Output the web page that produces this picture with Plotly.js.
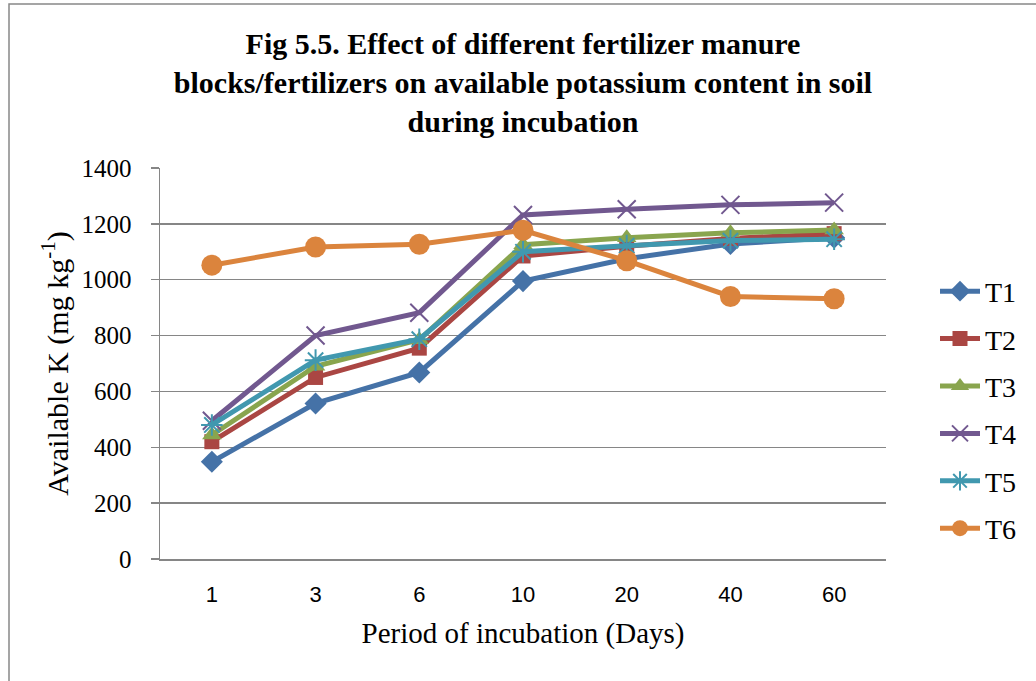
<!DOCTYPE html>
<html>
<head>
<meta charset="utf-8">
<script src="https://cdn.plot.ly/plotly-3.0.1.min.js"></script>
<style>html,body{margin:0;padding:0;background:#fff;}#chart{width:1036px;height:681px;}</style>
</head>
<body>
<div id="chart"></div>
<script>
const days = ['1', '3', '6', '10', '20', '40', '60'];
const seriesNames = ['T1', 'T2', 'T3', 'T4', 'T5', 'T6'];
const T1 = [348, 557, 668, 995, 1075, 1128, 1150];
const T2 = [420, 650, 755, 1085, 1120, 1148, 1165];
const T3 = [444, 690, 785, 1125, 1150, 1168, 1178];
const T4 = [495, 800, 882, 1232, 1252, 1268, 1276];
const T5 = [480, 712, 787, 1100, 1122, 1140, 1145];
const T6 = [1052, 1117, 1127, 1177, 1068, 940, 932];
const yTicks = [0, 200, 400, 600, 800, 1000, 1200, 1400];

const values = [T1, T2, T3, T4, T5, T6];
const colors = ['#4572A7', '#AA4643', '#89A54E', '#71588F', '#4198AF', '#DB843D'];
const markers = [
  {symbol: 'diamond', size: 17},
  {symbol: 'square', size: 15},
  {symbol: 'triangle-up', size: 17},
  {symbol: 'x-thin-open', size: 18, line: {width: 2}},
  {symbol: 'asterisk-open', size: 18, line: {width: 2}},
  {symbol: 'circle', size: 21}
];

const traces = values.map((v, i) => {
  const m = Object.assign({color: colors[i]}, markers[i]);
  if (m.line) m.line.color = colors[i];
  return {
    x: days, y: v, name: seriesNames[i], type: 'scatter', mode: 'lines+markers',
    line: {color: colors[i], width: 5},
    marker: m,
    legendgroup: 'g' + i
  };
});

const L = 160, R = 886, T = 168, B = 559, W = 1036, H = 681;
const pw = R - L, ph = B - T;
const px = v => (v - L) / pw;
const py = v => (B - v) / ph;

const layout = {
  width: W, height: H,
  margin: {l: L, r: W - R, t: T, b: H - B},
  paper_bgcolor: '#fff', plot_bgcolor: '#fff',
  showlegend: true,
  title: {
    text: '<b>Fig 5.5. Effect of different fertilizer manure<br>blocks/fertilizers on available potassium content in soil<br>during incubation</b>',
    font: {family: 'Liberation Serif', size: 30, color: '#000'},
    x: 0.5, xref: 'paper', xanchor: 'center',
    y: 1 - 54 / H, yref: 'container', yanchor: 'middle'
  },
  xaxis: {
    type: 'category', range: [-0.5, 6.5],
    showgrid: false, zeroline: false,
    showline: true, linecolor: '#868686', linewidth: 1.5,
    ticks: '', ticklabelstandoff: 15,
    tickfont: {family: 'Liberation Sans', size: 22, color: '#000'},
    title: {text: 'Period of incubation (Days)', font: {family: 'Liberation Serif', size: 29, color: '#000'}, standoff: 17}
  },
  yaxis: {
    range: [0, 1400], tickvals: yTicks, ticktext: yTicks.map(String),
    showgrid: true, gridcolor: '#868686', gridwidth: 1.3, zeroline: false,
    showline: true, linecolor: '#868686', linewidth: 1.5,
    ticks: 'outside', ticklen: 8, tickcolor: '#868686', tickwidth: 1.3,
    ticklabelstandoff: 14,
    tickfont: {family: 'Liberation Serif', size: 25, color: '#000'},
    title: {text: 'Available K (mg kg<sup>-1</sup>)', font: {family: 'Liberation Serif', size: 30, color: '#000'}, standoff: 4}
  },
  legend: {
    x: px(935), xanchor: 'left', y: py(410), yanchor: 'middle',
    font: {family: 'Liberation Serif', size: 28, color: '#000'},
    tracegroupgap: 8, bgcolor: 'rgba(0,0,0,0)', itemwidth: 40
  },
  shapes: [{
    type: 'rect', xref: 'paper', yref: 'paper',
    x0: px(9), x1: px(1045), y0: py(690), y1: py(4),
    line: {color: '#888', width: 1.5}, fillcolor: 'rgba(0,0,0,0)', layer: 'below'
  }]
};

Plotly.newPlot('chart', traces, layout, {displayModeBar: false, staticPlot: true});
</script>
</body>
</html>
